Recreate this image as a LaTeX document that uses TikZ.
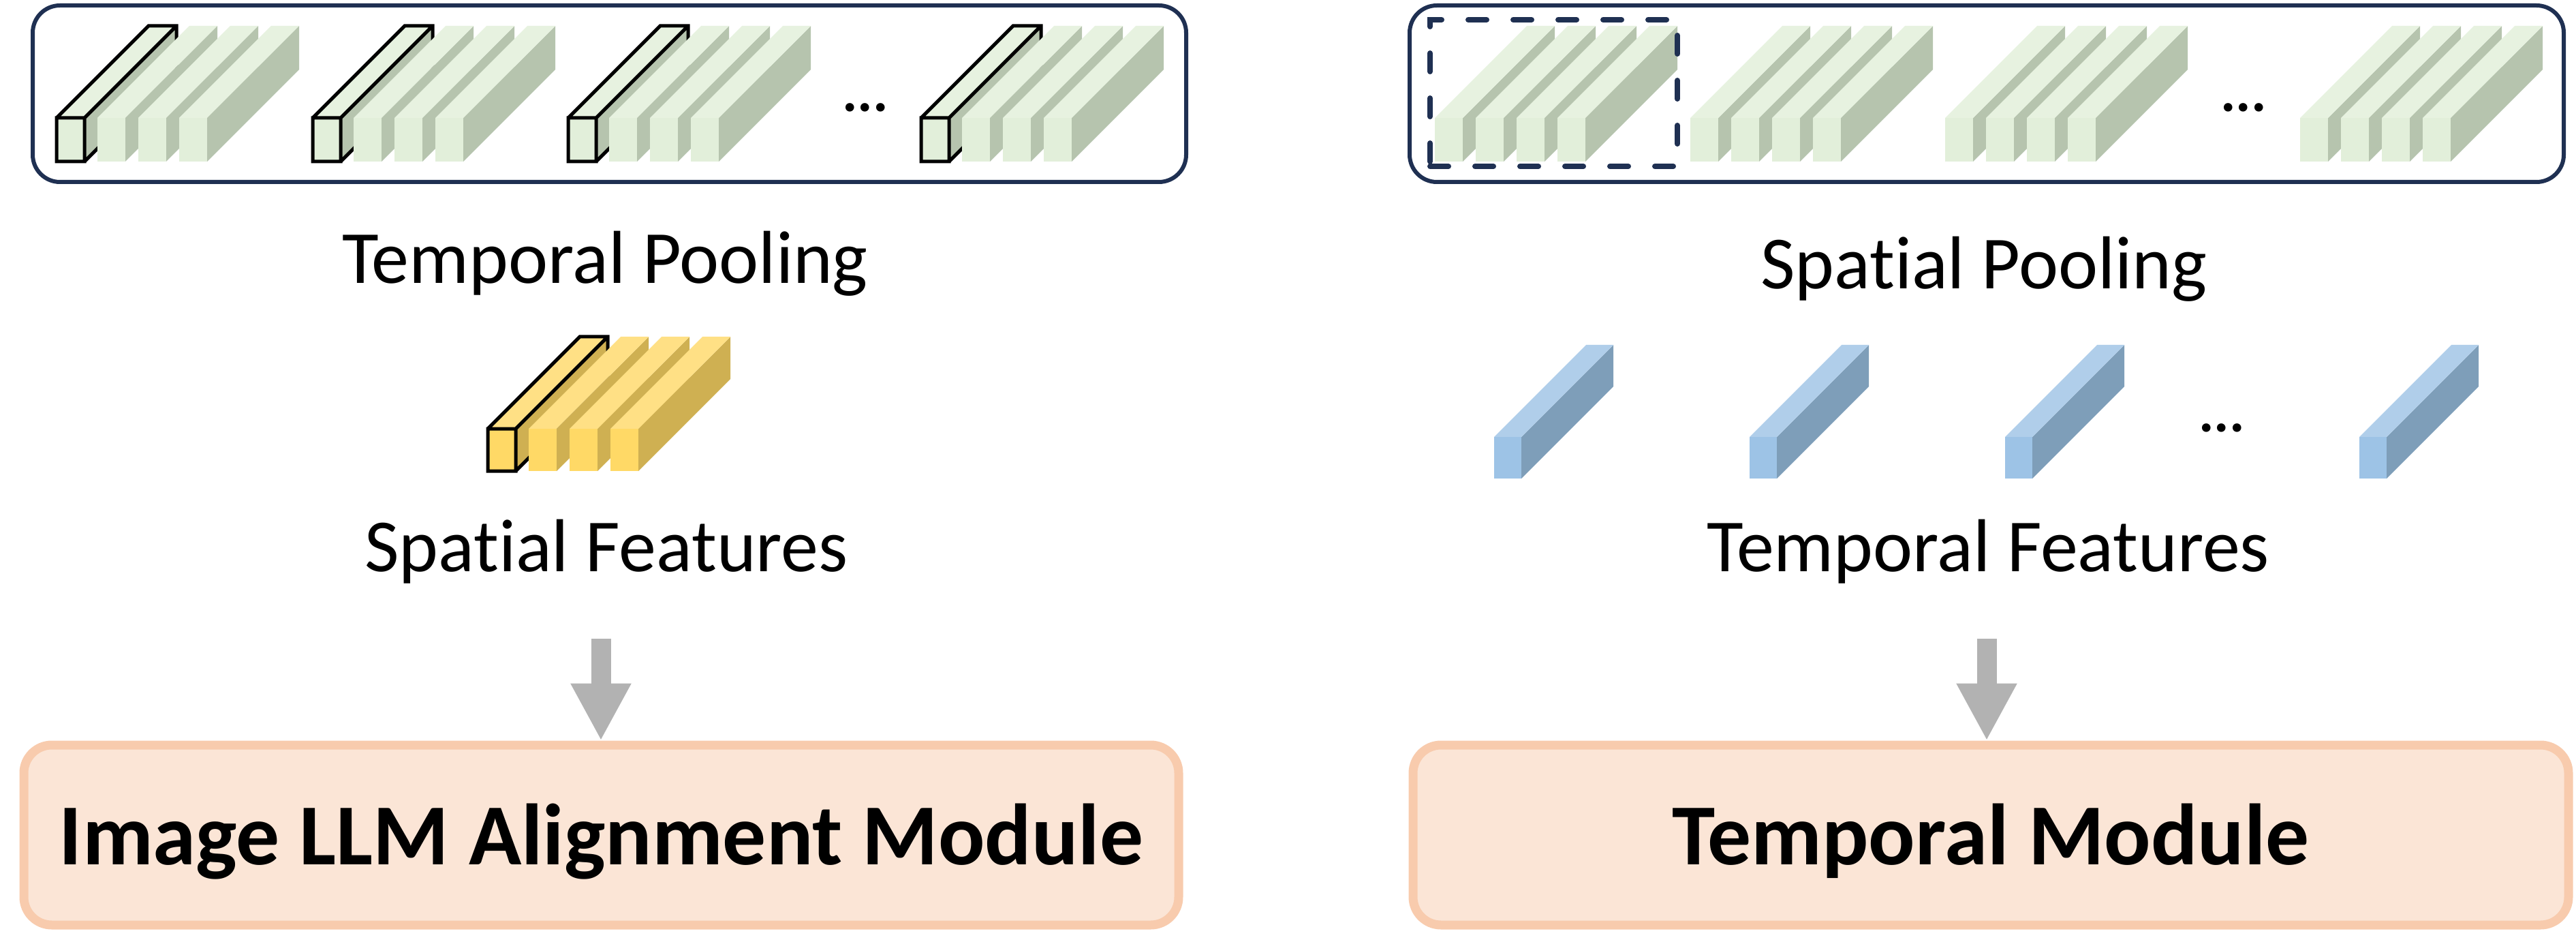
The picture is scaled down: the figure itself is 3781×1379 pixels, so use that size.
\documentclass[tikz,border=0pt]{standalone}
\usepackage{fontspec}
\setmainfont{Carlito}[Ligatures={NoCommon,NoContextual}]
\usetikzlibrary{arrows.meta}

\definecolor{navy}{RGB}{31,48,82}
\definecolor{gfront}{RGB}{226,239,218}
\definecolor{gtop}{RGB}{231,242,224}
\definecolor{gside}{RGB}{182,196,174}
\definecolor{yfront}{RGB}{255,217,102}
\definecolor{ytop}{RGB}{255,224,133}
\definecolor{yside}{RGB}{207,176,82}
\definecolor{bfront}{RGB}{157,195,230}
\definecolor{btop}{RGB}{176,206,234}
\definecolor{bside}{RGB}{126,158,185}
\definecolor{modfill}{RGB}{251,229,214}
\definecolor{modline}{RGB}{248,203,173}
\definecolor{arrowgray}{RGB}{178,178,178}

% one feature bar: x, y of front top, width, height, colour family
\newcommand{\featbar}[5]{%
  \fill[#5side] (#1+#3,#2) -- ++(135,-135) -- ++(0,#4) -- ++(-135,135) -- cycle;
  \fill[#5top] (#1,#2) -- ++(135,-135) -- ++(#3,0) -- ++(-135,135) -- cycle;
  \fill[#5front] (#1,#2) rectangle ++(#3,#4);
}
% black edges of the first bar
\newcommand{\baredge}[4]{%
  \draw[line width=0.5mm] (#1,#2) rectangle ++(#3,#4)
    (#1,#2) -- ++(135,-135) -- ++(#3,0) -- ++(0,#4) -- ++(-135,135)
    (#1+#3,#2) -- ++(135,-135);
}

\begin{document}
\begin{tikzpicture}[x=0.1mm,y=-0.1mm,
  framebox/.style={draw=navy,line width=0.6mm,rounded corners=4mm,inner sep=0pt},
  poolwin/.style={draw=navy,line width=0.8mm,dash pattern=on 2.7mm off 3.9mm,line cap=round,inner sep=0pt},
  modbox/.style={draw=modline,fill=modfill,line width=1.3mm,rounded corners=4.1mm,
    minimum height=26.4mm,text height=8.6mm,text depth=0pt,
    font=\fontsize{36.3}{44}\selectfont\bfseries},
  lbl/.style={anchor=base,inner sep=0pt,font=\fontsize{31.3}{37}\selectfont},
  dots/.style={inner sep=0pt,font=\fontsize{24}{28}\selectfont\bfseries},
  bigarrow/.style={draw=arrowgray,line width=2.9mm,-{Triangle[width=8.3mm,length=8.4mm]}}]
\useasboundingbox (0,0) rectangle (3781,1379);

% frames
\node[framebox,minimum width=169.3mm,minimum height=25.9mm] (vleft) at (894.5,137.5) {};
\node[framebox,minimum width=169.4mm,minimum height=25.9mm] (vright) at (2916,137.5) {};

% video features, left
\foreach \gx in {83,459,834,1352}{
  \featbar{\gx}{173}{41}{64}{g}
  \baredge{\gx}{173}{41}{64}
  \foreach \k in {1,2,3}{\featbar{\gx+60*\k}{173}{41}{64}{g}}
}
\node[dots] (ldots) at (1270,158) {...};

% video features, right
\foreach \gx in {2106,2481,2855,3376}{
  \foreach \k in {0,1,2,3}{\featbar{\gx+60*\k}{173}{41}{64}{g}}
}
\node[dots] (rdots) at (3293,158) {...};
\node[poolwin,minimum width=36.3mm,minimum height=21.5mm] (win) at (2280.5,136.5) {};

\node[lbl] (tpool) at (888,416) {Temporal Pooling};
\node[lbl] (spool) at (2912,424) {Spatial Pooling};

% pooled features
\featbar{716}{629}{41}{62}{y}
\baredge{716}{629}{41}{62}
\foreach \k in {1,2,3}{\featbar{716+60*\k}{629}{41}{62}{y}}

\foreach \bx in {2193,2568,2943,3463}{\featbar{\bx}{641}{40}{61}{b}}
\node[dots] (bdots) at (3261,628) {...};

\node[lbl] (sfeat) at (890,838) {Spatial Features};
\node[lbl] (tfeat) at (2918,838) {Temporal Features};

% modules
\node[modbox,minimum width=169.5mm] (imod) at (882.5,1225) {Image LLM Alignment Module};
\node[modbox,minimum width=169.6mm] (tmod) at (2922,1225) {Temporal Module};

\coordinate (sarr) at (882,937);
\coordinate (tarr) at (2916,937);
\draw[bigarrow] (sarr) -- (sarr |- imod.north);
\draw[bigarrow] (tarr) -- (tarr |- tmod.north);
\end{tikzpicture}
\end{document}
